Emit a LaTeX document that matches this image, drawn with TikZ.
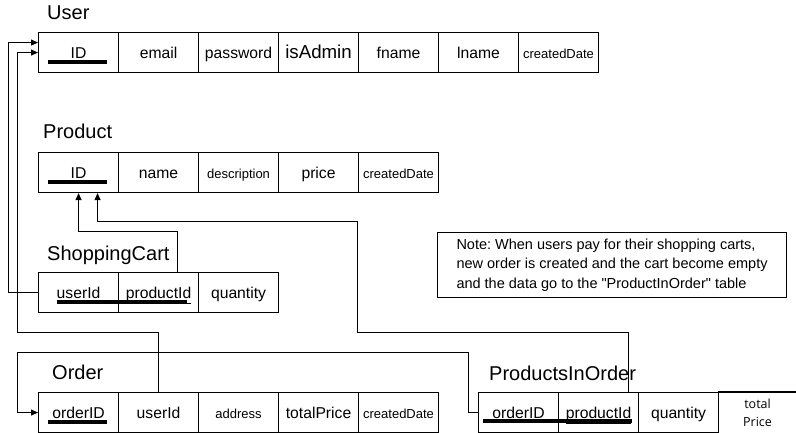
\documentclass[tikz,border=0pt]{standalone}
\usepackage{fontspec}
\setmainfont{Liberation Sans}[Ligatures=TeXOff]
\newfontfamily\segfont{Open Sans}
\usetikzlibrary{arrows.meta}
\begin{document}
\frenchspacing
\begin{tikzpicture}[x=1pt,y=-1pt,
  cellbox/.style={draw, line width=1.1pt, minimum width=80pt, minimum height=40pt, inner sep=0pt, anchor=north west},
  cell/.style={cellbox, font=\fontsize{15.7}{18}\selectfont, text height=15pt, text depth=3pt},
  small/.style={font=\fontsize{13}{15}\selectfont},
  big/.style={font=\fontsize{18.7}{21}\selectfont},
  title/.style={anchor=base west, inner sep=0pt, font=\fontsize{20}{24}\selectfont},
  conn/.style={line width=1pt},
  arr/.style={conn, -{Triangle[length=7pt,width=6pt]}},
  keybar/.style={line width=4pt},
  note/.style={draw, line width=1.1pt, anchor=north west, minimum height=65pt, minimum width=349pt, inner sep=0pt, align=left, font=\fontsize{14.5}{19.5}\selectfont}]
\useasboundingbox (0,0) rectangle (796,433);

% User
\node[title] (tu) at (47,20) {User};
\node[cell] (u1) at (38,32) {\underline{\hspace{5pt}ID\hspace{5pt}}};
\node[cell] (u2) at (118,32) {email};
\node[cell] (u3) at (198,32) {password};
\node[cell, big] (u4) at (278,32) {isAdmin};
\node[cell] (u5) at (358,32) {fname};
\node[cell] (u6) at (438,32) {lname};
\node[cell, small] (u7) at (518,32) {createdDate};

% Product
\node[title] (tp) at (43,139) {Product};
\node[cell] (p1) at (38,152) {\underline{\hspace{5pt}ID\hspace{5pt}}};
\node[cell] (p2) at (118,152) {name};
\node[cell, small] (p3) at (198,152) {description};
\node[cell] (p4) at (278,152) {price};
\node[cell, small] (p5) at (358,152) {createdDate};

% ShoppingCart
\node[title] (tsc) at (47,260) {ShoppingCart};
\node[cell] (sc1) at (38,272) {\underline{userId}};
\node[cell] (sc2) at (118,272) {\underline{productId}};
\node[cell] (sc3) at (198,272) {quantity};

% Order
\node[title] (to) at (52,379) {Order};
\node[cell] (o1) at (38,392) {\underline{orderID}};
\node[cell] (o2) at (118,392) {userId};
\node[cell, small] (o3) at (198,392) {address};
\node[cell] (o4) at (278,392) {totalPrice};
\node[cell, small] (o5) at (358,392) {createdDate};

% ProductsInOrder
\node[title] (tpio) at (489,380) {ProductsInOrder};
\node[cell] (pio1) at (478,392) {\underline{orderID}};
\node[cell] (pio2) at (558,392) {\underline{productId}};
\node[cell] (pio3) at (638,392) {quantity};
\node[cellbox, draw=none, minimum width=78pt, align=center, font=\segfont\fontsize{12.5}{18}\selectfont] (pio4) at (718,392) {total\\Price};
\draw[line width=1.1pt] (pio4.north west) -- (pio4.north east) (pio4.south west) -- (pio4.south east);

% key bars
\draw[keybar] (48,62) -- (107,62);
\draw[keybar] (48,182) -- (107,182);
\draw[keybar] (57,302) -- (187,302);
\draw[keybar] (48,422) -- (107,422);
\draw[keybar] (483,421) -- (632,421);

% note
\node[note] (nt) at (437,232) {Note: When users pay for their shopping carts,\\new order is created and the cart become empty\\and the data go to the "ProductInOrder" table};

% connectors
\draw[arr] (sc1.west) -- ++(-30,0) |- ([yshift=10pt]u1.west);
\draw[arr] (o2.north) -- ++(0,-60) -- ++(-141,0) |- (u1.west);
\draw[arr] ([xshift=19pt]sc2.north) -- ++(0,-40) -| (p1.south);
\draw[arr] ([xshift=30pt]pio2.north) -- ++(0,-60) -- ++(-271,0) -- ++(0,-110) -| ([xshift=19pt]p1.south);
\draw[arr] (pio1.west) -- ++(-10,0) -- ++(0,-60) -- ++(-451,0) |- (o1.west);
\end{tikzpicture}
\end{document}
